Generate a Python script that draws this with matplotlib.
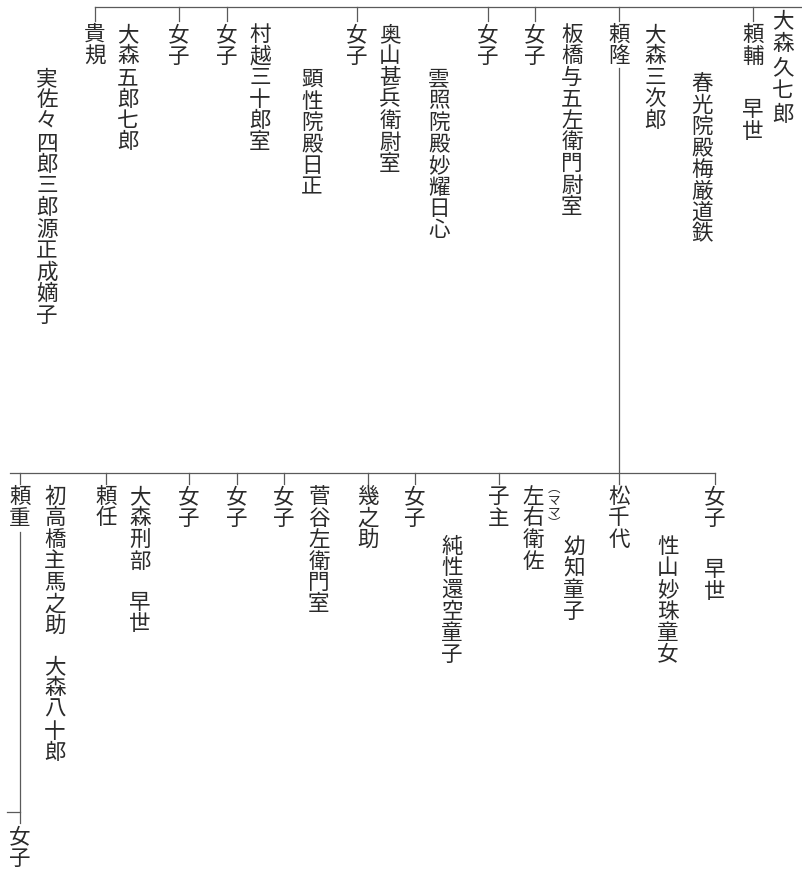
import matplotlib
matplotlib.use('Agg')
import matplotlib.pyplot as plt

plt.rcParams['font.family'] = ['Noto Sans CJK JP', 'DejaVu Sans']

# 上段 (頼隆の兄弟姉妹)
top_names = ['大森久七郎', '頼輔', '早世', '春光院殿梅厳道鉄', '大森三次郎', '頼隆',
             '板橋与五左衛門尉室', '女子', '女子', '雲照院殿妙耀日心', '奥山甚兵衛尉室',
             '女子', '顕性院殿日正', '村越三十郎室', '女子', '女子', '大森五郎七郎',
             '貴規', '実佐々四郎三郎源正成嫡子']
top_ticks = [False, True, False, False, False, True,
             False, True, True, False, False,
             True, False, False, True, True, False,
             True, False]

# 下段 (頼隆の子)
bot_names = ['女子', '早世', '性山妙珠童女', '松千代', '幼知童子', '左右衛佐',
             '子主', '純性還空童子', '女子', '幾之助', '菅谷左衛門室', '女子',
             '女子', '女子', '大森刑部', '早世', '頼任', '初高橋主馬之助',
             '大森八十郎', '頼重']
bot_ticks = [True, False, False, True, False, False,
             True, False, True, True, False, True,
             True, True, False, False, True, False,
             False, True]

note_text = '︵ママ︶'
last_name = '女子'

# layout (pixels)
top_x = [783, 753, 753, 702, 655, 619, 572, 535, 488, 439, 390,
         357, 312, 260, 227, 179, 128, 95, 47]
top_y = [11, 25, 100, 74, 25, 25, 25, 25, 25, 70, 25,
         25, 70, 25, 25, 25, 25, 25, 69]
bot_x = [715, 715, 668, 619, 574, 533, 499, 452, 415, 368, 319, 284,
         237, 189, 140, 140, 106, 55, 55, 20]
bot_y = [487, 560, 537, 487, 537, 487, 487, 537, 487, 487, 487, 487,
         487, 487, 487, 593, 487, 487, 657, 487]

TOP_LINE = 7
BOT_LINE = 473
PITCH = 21.5
FS = 15.5
TXT = '#2a2a2a'
LN = '#5a5a5a'
LW = 0.9

fig = plt.figure(figsize=(8.03, 8.76), dpi=100)
ax = fig.add_axes([0, 0, 1, 1])
ax.set_xlim(0, 803)
ax.set_ylim(876, 0)
ax.axis('off')


def vtext(s, x, y0, pitch=PITCH, fs=FS):
    for i, ch in enumerate(s):
        ax.text(x, y0 + 10 + i * pitch, ch, ha='center', va='center',
                fontsize=fs, color=TXT)


# 上段
ax.plot([95, 803], [TOP_LINE, TOP_LINE], color=LN, lw=LW)
for name, x, y, t in zip(top_names, top_x, top_y, top_ticks):
    p = 23.5 if name == '大森久七郎' else PITCH
    vtext(name, x, y, pitch=p)
    if t:
        ax.plot([x, x], [TOP_LINE, y - 4], color=LN, lw=LW)

# 頼隆 -> 子
ax.plot([619, 619], [68, 484], color=LN, lw=LW)

# 下段
ax.plot([10, 715], [BOT_LINE, BOT_LINE], color=LN, lw=LW)
for name, x, y, t in zip(bot_names, bot_x, bot_y, bot_ticks):
    vtext(name, x, y)
    if t and x != 619:
        ax.plot([x, x], [BOT_LINE, y - 3], color=LN, lw=LW)

# (ママ)
vtext(note_text, 554, 478, pitch=12, fs=9)

# 頼重 -> 女子
ax.plot([20, 20], [532, 823], color=LN, lw=LW)
ax.plot([7, 20], [812, 812], color=LN, lw=LW)
vtext(last_name, 20, 827)

fig.savefig('out.png', dpi=100, facecolor='white')
